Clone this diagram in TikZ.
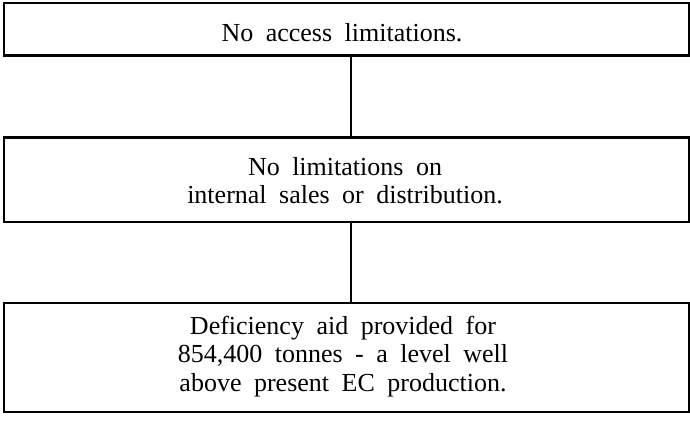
\documentclass[tikz,border=0pt]{standalone}
\usepackage{fontspec}
\setmainfont{Liberation Serif}
\newcommand{\boxfontset}{\fontsize{26}{28.5}\selectfont\spaceskip=12.5pt\relax}
\begin{document}
\begin{tikzpicture}[x=1pt,y=1pt,
  box/.style={draw=black, line width=2.8pt, rectangle, minimum width=685pt, inner sep=0pt},
  txt/.style={anchor=base, inner sep=0pt, font=\boxfontset},
  link/.style={draw=black, line width=2.8pt}]
\useasboundingbox (0,0) rectangle (690,422);
\node[box, minimum height=52.5pt] (b1) at (346.5,392.75) {};
\node[box, minimum height=84.5pt] (b2) at (346.5,242.25) {};
\node[box, minimum height=109pt] (b3) at (346.5,64.5) {};
\node[txt] (t1) at (342,380) {No access limitations.};
\node[txt] (t2a) at (345,246) {No limitations on};
\node[txt] (t2b) at (345,218) {internal sales or distribution.};
\node[txt] (t3a) at (343,87) {Deficiency aid provided for};
\node[txt] (t3b) at (343,59) {854,400 tonnes - a level well};
\node[txt] (t3c) at (343,30) {above present EC production.};
\draw[link] ([xshift=4.5pt]b1.south) -- ([xshift=4.5pt]b2.north);
\draw[link] ([xshift=4.5pt]b2.south) -- ([xshift=4.5pt]b3.north);
\end{tikzpicture}
\end{document}
